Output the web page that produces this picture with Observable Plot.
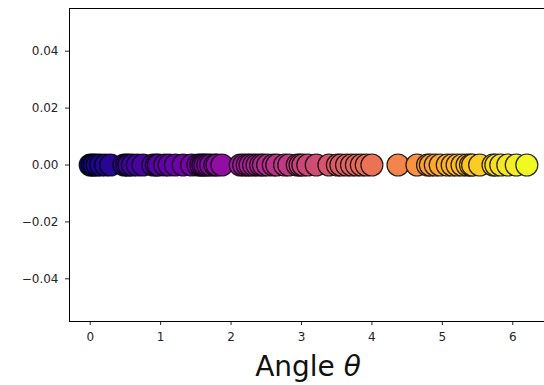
<!DOCTYPE html>
<html>
<head>
<meta charset="utf-8">
<script src="https://cdn.jsdelivr.net/npm/d3@7"></script>
<script src="https://cdn.jsdelivr.net/npm/@observablehq/plot@0.6"></script>
<style>
  html, body { margin: 0; padding: 0; background: white; overflow: hidden; }
  #chart svg { font-family: "DejaVu Sans", sans-serif; }
</style>
</head>
<body>
<div id="chart"></div>
<script>
// Angles (radians)
const angles = [
  0.00, 0.03, 0.06, 0.10, 0.15, 0.22, 0.29, 0.48, 0.52, 0.55, 0.60, 0.67, 0.75,
  0.89, 0.94, 0.97, 1.06, 1.12, 1.21, 1.32, 1.44, 1.53, 1.57, 1.60, 1.63, 1.67,
  1.71, 1.77, 1.80, 1.87, 2.13, 2.18, 2.23, 2.27, 2.32, 2.37, 2.42, 2.46, 2.52,
  2.60, 2.65, 2.76, 2.82, 2.94, 2.98, 3.02, 3.09, 3.21, 3.39, 3.51, 3.56, 3.64,
  3.71, 3.78, 3.85, 3.92, 4.00, 4.37, 4.64, 4.79, 4.83, 4.90, 4.97, 5.07, 5.14,
  5.21, 5.28, 5.35, 5.40, 5.43, 5.53, 5.72, 5.76, 5.83, 5.93, 6.05, 6.20
];
const yValues = angles.map(() => 0);
const xTicks = [0, 1, 2, 3, 4, 5, 6];
const yTicks = [-0.04, -0.02, 0.00, 0.02, 0.04];
const xLabel = "Angle ";
const xLabelSymbol = "θ";

const data = angles.map((a, i) => ({theta: a, y: yValues[i]}));

const chart = Plot.plot({
  width: 544,
  height: 385,
  marginLeft: 69,
  marginRight: -7,
  marginTop: 8,
  marginBottom: 64,
  style: {fontSize: "12px", fontFamily: "DejaVu Sans, sans-serif", color: "#262626", background: "white"},
  x: {domain: [-0.294, 6.55], ticks: xTicks, tickFormat: d3.format("d"), label: null, tickSize: 4, tickPadding: 7},
  y: {domain: [-0.055, 0.055], ticks: yTicks, tickFormat: d3.format(".2f"), label: null, tickSize: 4, tickPadding: 7},
  color: {type: "linear", scheme: "plasma", domain: [d3.min(angles), d3.max(angles)]},
  marks: [
    Plot.dot(data, {x: "theta", y: "y", r: 11, fill: "theta", stroke: "black", strokeOpacity: 0.85, strokeWidth: 1.2}),
    Plot.frame({stroke: "black", strokeWidth: 1})
  ]
});
document.getElementById("chart").appendChild(chart);

// Axis label with italic theta
const svg = d3.select(chart);
const t = svg.append("text")
  .attr("x", 308)
  .attr("y", 376)
  .attr("text-anchor", "middle")
  .attr("font-size", "28px")
  .attr("font-family", "DejaVu Sans, sans-serif")
  .attr("fill", "#111");
t.append("tspan").text(xLabel);
t.append("tspan").attr("font-style", "italic").text(xLabelSymbol);
</script>
</body>
</html>
